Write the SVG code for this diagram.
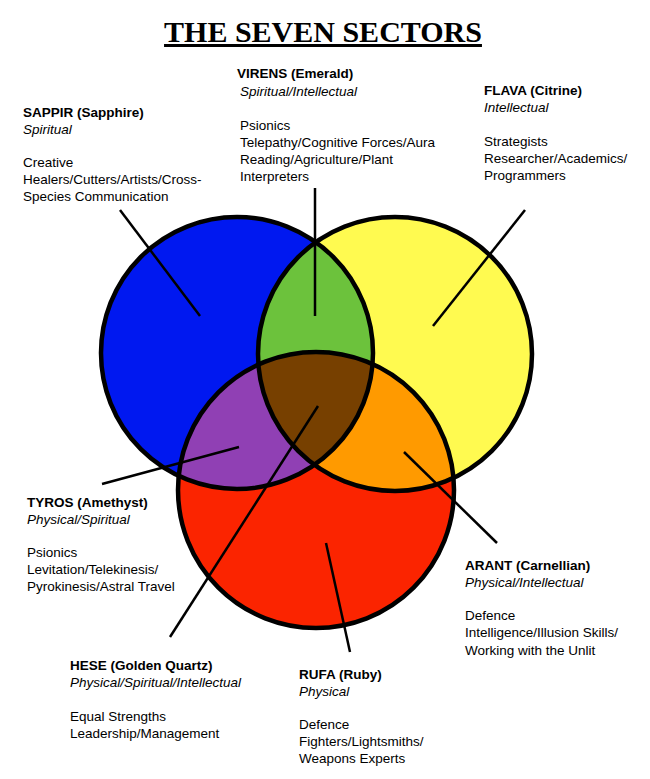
<svg xmlns="http://www.w3.org/2000/svg" width="650" height="779" viewBox="0 0 650 779">
<style>
text{font-family:"Liberation Sans",Arial,sans-serif;font-size:13.5px;fill:#000}
.b{font-weight:bold}.i{font-style:italic}
.t{font-family:"Liberation Serif","Times New Roman",serif;font-size:30px;font-weight:bold;text-decoration:underline}
.o{fill:none;stroke:#000;stroke-width:4.5}
.c{stroke:#000;stroke-width:2.5}
</style>
<defs>
<circle id="B" cx="237" cy="353" r="136"/>
<circle id="Y" cx="395" cy="354" r="137"/>
<circle id="R" cx="316" cy="490" r="138"/>
<clipPath id="cB"><use href="#B"/></clipPath>
<clipPath id="cY"><use href="#Y"/></clipPath>
<clipPath id="cR"><use href="#R"/></clipPath>
</defs>
<rect width="650" height="779" fill="#fff"/>
<text class="t" x="323" y="42" text-anchor="middle">THE SEVEN SECTORS</text>
<g id="circles">
<use href="#B" fill="#0018f0"/>
<use href="#Y" fill="#fffa50"/>
<use href="#R" fill="#fb2400"/>
<g clip-path="url(#cB)"><use href="#Y" fill="#6cc23c"/></g>
<g clip-path="url(#cB)"><use href="#R" fill="#9040b4"/></g>
<g clip-path="url(#cY)"><use href="#R" fill="#ff9a00"/></g>
<g clip-path="url(#cB)"><g clip-path="url(#cY)"><use href="#R" fill="#774000"/></g></g>
<use href="#B" class="o"/><use href="#Y" class="o"/><use href="#R" class="o"/>
</g>
<g id="connectors">
<line class="c" x1="120" y1="210" x2="200" y2="316"/>
<line class="c" x1="315" y1="188" x2="315" y2="316"/>
<line class="c" x1="525" y1="210" x2="433" y2="326"/>
<line class="c" x1="102" y1="484" x2="239" y2="447"/>
<line class="c" x1="170" y1="637" x2="318" y2="406"/>
<line class="c" x1="404" y1="452" x2="497" y2="543"/>
<line class="c" x1="326" y1="543" x2="350" y2="652"/>
</g>
<g id="sappir"><text class="b" x="23" y="117">SAPPIR (Sapphire)</text><text class="i" x="23" y="134">Spiritual</text><text x="23" y="167">Creative</text><text x="23" y="184">Healers/Cutters/Artists/Cross-</text><text x="23" y="201">Species Communication</text></g>
<g id="virens"><text class="b" x="237" y="78">VIRENS (Emerald)</text><text class="i" x="240" y="96">Spiritual/Intellectual</text><text x="240" y="130">Psionics</text><text x="240" y="147">Telepathy/Cognitive Forces/Aura</text><text x="240" y="164">Reading/Agriculture/Plant</text><text x="240" y="181">Interpreters</text></g>
<g id="flava"><text class="b" x="484" y="95">FLAVA (Citrine)</text><text class="i" x="484" y="112">Intellectual</text><text x="484" y="146">Strategists</text><text x="484" y="163">Researcher/Academics/</text><text x="484" y="180">Programmers</text></g>
<g id="tyros"><text class="b" x="27" y="507">TYROS (Amethyst)</text><text class="i" x="27" y="524">Physical/Spiritual</text><text x="27" y="557">Psionics</text><text x="27" y="574">Levitation/Telekinesis/</text><text x="27" y="591">Pyrokinesis/Astral Travel</text></g>
<g id="arant"><text class="b" x="465" y="570">ARANT (Carnellian)</text><text class="i" x="465" y="587">Physical/Intellectual</text><text x="465" y="620">Defence</text><text x="465" y="637">Intelligence/Illusion Skills/</text><text x="465" y="655">Working with the Unlit</text></g>
<g id="hese"><text class="b" x="70" y="670">HESE (Golden Quartz)</text><text class="i" x="70" y="687">Physical/Spiritual/Intellectual</text><text x="70" y="721">Equal Strengths</text><text x="70" y="738">Leadership/Management</text></g>
<g id="rufa"><text class="b" x="299" y="679">RUFA (Ruby)</text><text class="i" x="299" y="696">Physical</text><text x="299" y="729">Defence</text><text x="299" y="746">Fighters/Lightsmiths/</text><text x="299" y="763">Weapons Experts</text></g>
</svg>
